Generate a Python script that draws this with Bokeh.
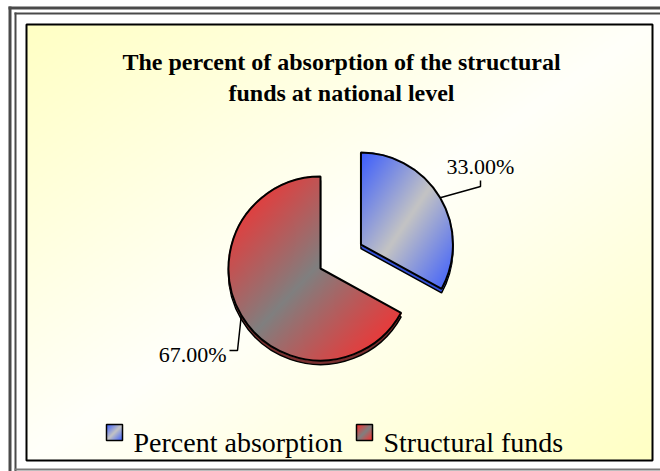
import numpy as np
from bokeh.plotting import figure
from bokeh.models import Range1d
from bokeh.embed import file_html
from bokeh.resources import INLINE
from bokeh.core.properties import value

# ---------------- data ----------------
title_lines = ["The percent of absorption of the structural", "funds at national level"]
categories = ["Percent absorption", "Structural funds"]
percents = [33.0, 67.0]
edge_rgb = [(58, 92, 255), (255, 44, 44)]
mid_rgb = [(196, 196, 196), (128, 128, 128)]
grad_power = [1.0, 1.15]
depth_colors = ["#3552d8", "#7a3030"]
explode_px = [47, 0]

# ---------------- layout helpers ----------------
W, H = 660, 471
def Y(sy):
    return H - sy

FONT = "Liberation Serif"
CX, CY, R = 320, Y(268), 92

p = figure(width=W, height=H, x_range=Range1d(0, W), y_range=Range1d(0, H),
           output_backend="svg", toolbar_location=None, min_border=0,
           x_axis_location=None, y_axis_location=None)
p.grid.visible = False
p.outline_line_color = None
p.background_fill_color = "white"
p.border_fill_color = "white"


def pack(r, g, b, a):
    h, w = r.shape
    img = np.empty((h, w), dtype=np.uint32)
    v = img.view(dtype=np.uint8).reshape((h, w, 4))
    v[..., 0] = np.clip(r, 0, 255)
    v[..., 1] = np.clip(g, 0, 255)
    v[..., 2] = np.clip(b, 0, 255)
    v[..., 3] = a
    return img


def gradient_image(x0, sy0, w, h, edge, mid, mask=None, step=1, power=1.0):
    nw, nh = max(1, int(w / step)), max(1, int(h / step))
    xs = (np.arange(nw) + 0.5) / nw
    ys = (np.arange(nh) + 0.5) / nh
    XX, YY = np.meshgrid(xs, ys)
    t = (XX + YY) / 2.0
    f = (1.0 - np.abs(2 * t - 1)) ** power
    r = edge[0] + (mid[0] - edge[0]) * f
    g = edge[1] + (mid[1] - edge[1]) * f
    b = edge[2] + (mid[2] - edge[2]) * f
    a = np.full(r.shape, 255, dtype=np.uint8) if mask is None else np.where(mask, 255, 0).astype(np.uint8)
    img = pack(r, g, b, a)[::-1]
    p.image_rgba(image=[img], x=x0, y=Y(sy0 + h), dw=w, dh=h)


# ---------------- background & frames ----------------
gradient_image(26, 24, 626, 436, (255, 255, 196), (255, 255, 250), step=2)
p.quad(left=26, right=652, bottom=Y(460), top=Y(24), fill_color=None,
       line_color="black", line_width=2)
# outer double frame
p.quad(left=[8, 14], right=[11, 16], bottom=[0, 0], top=[Y(6), Y(12)],
       fill_color="#4a4a4a", line_color=None)
p.quad(left=[8, 14], right=[660, 660], bottom=[Y(9), Y(14)], top=[Y(6), Y(12)],
       fill_color="#4a4a4a", line_color=None)
p.quad(left=14, right=660, bottom=Y(470), top=Y(468), fill_color="#7a7a7a", line_color=None)

# ---------------- pie ----------------
total = sum(percents)
starts, ends, centers = [], [], []
cum = 0.0
for pct, ex in zip(percents, explode_px):
    a_start = np.pi / 2 - cum / total * 2 * np.pi      # clockwise from 12 o'clock
    a_end = a_start - pct / total * 2 * np.pi
    mid = (a_start + a_end) / 2
    cx = CX + ex * np.cos(mid)
    cy = CY + ex * np.sin(mid)
    starts.append(a_end)
    ends.append(a_start)
    centers.append((cx, cy, mid))
    cum += pct

DEPTH = 4
for i in range(len(percents)):
    cx, cy, mid = centers[i]
    p.wedge(x=cx, y=cy - DEPTH, radius=R, start_angle=starts[i], end_angle=ends[i],
            fill_color=depth_colors[i], line_color="black", line_width=1.5)
    p.wedge(x=cx, y=cy - DEPTH / 2, radius=R, start_angle=starts[i], end_angle=ends[i],
            fill_color=depth_colors[i], line_color=None)

for i in range(len(percents)):
    cx, cy, mid = centers[i]
    sx0, sx1 = int(np.floor(cx - R - 1)), int(np.ceil(cx + R + 1))
    sy0, sy1 = int(np.floor(Y(cy) - R - 1)), int(np.ceil(Y(cy) + R + 1))
    px = np.arange(sx0, sx1) + 0.5
    py = np.arange(sy0, sy1) + 0.5
    PX, PY = np.meshgrid(px, py)
    dx = PX - cx
    dy = Y(PY) - cy
    rr = np.hypot(dx, dy)
    ang = np.arctan2(dy, dx)
    rel = (ang - starts[i]) % (2 * np.pi)
    span = (ends[i] - starts[i]) % (2 * np.pi)
    if span == 0:
        span = 2 * np.pi
    mask = (rr <= R + 0.5) & (rel <= span)
    rows = np.where(mask.any(axis=1))[0]
    cols = np.where(mask.any(axis=0))[0]
    r0, r1 = rows[0], rows[-1] + 1
    c0, c1 = cols[0], cols[-1] + 1
    sub = mask[r0:r1, c0:c1]
    gradient_image(sx0 + c0, sy0 + r0, c1 - c0, r1 - r0, edge_rgb[i], mid_rgb[i],
                   mask=sub, power=grad_power[i])
    p.wedge(x=cx, y=cy, radius=R, start_angle=starts[i], end_angle=ends[i],
            fill_color=None, line_color="black", line_width=2)

# ---------------- data labels ----------------
label_pos = [(480, Y(166), "center"), (226, Y(354), "right")]
elbows = [[(480, Y(186)), (480, Y(180))], [(237, Y(350)), (229, Y(350))]]
for i in range(len(percents)):
    cx, cy, mid = centers[i]
    ax, ay = cx + R * np.cos(mid), cy + R * np.sin(mid)
    pts = [(ax, ay)] + elbows[i]
    p.line(x=[q[0] for q in pts], y=[q[1] for q in pts], line_color="black", line_width=1.5)
    lx, ly, al = label_pos[i]
    p.text(x=[lx], y=[ly], text=[f"{percents[i]:.2f}%"], text_font=value(FONT),
           text_font_size="22px", text_align=al, text_baseline="alphabetic",
           text_color="black")

# ---------------- title ----------------
p.text(x=[341, 341], y=[Y(61), Y(92)], text=title_lines, text_font=value(FONT),
       text_font_size="24px", text_font_style="bold", text_align="center",
       text_baseline="alphabetic", text_color="black")

# ---------------- legend ----------------
leg_sq_x = [106, 356]
leg_txt_x = [133, 383]
for i, name in enumerate(categories):
    gradient_image(leg_sq_x[i], 424, 16, 16, edge_rgb[i], mid_rgb[i])
    p.quad(left=leg_sq_x[i], right=leg_sq_x[i] + 16, bottom=Y(440), top=Y(424),
           fill_color=None, line_color="black", line_width=1.5)
p.text(x=leg_txt_x, y=[Y(442), Y(442)], text=categories, text_font=value(FONT),
       text_font_size="28px", text_align="left", text_baseline="alphabetic",
       text_color="black")

open("out.html", "w").write(file_html(p, INLINE))
